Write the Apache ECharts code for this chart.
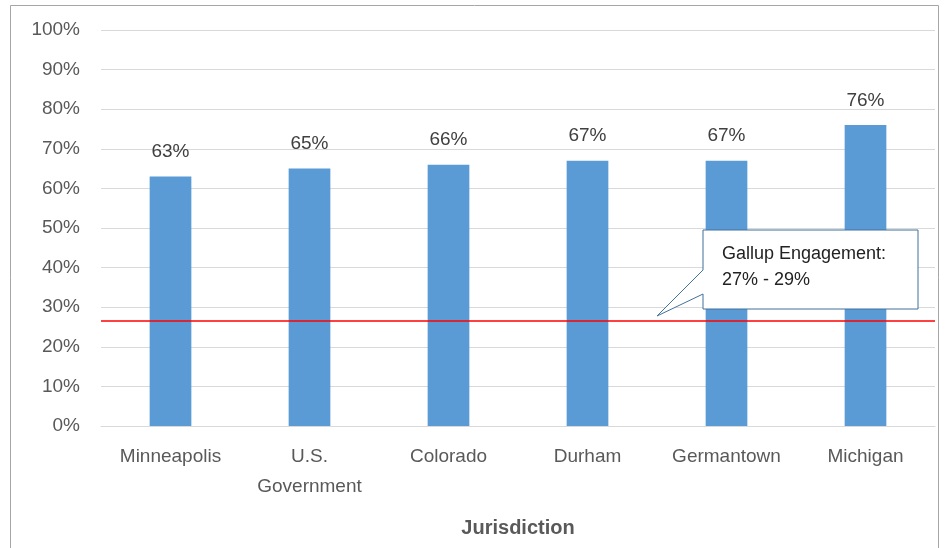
<!DOCTYPE html>
<html>
<head>
<meta charset="utf-8">
<script src="https://cdn.jsdelivr.net/npm/echarts@6/dist/echarts.min.js"></script>
<style>
  html, body { margin: 0; padding: 0; background: #fff; }
  #main { width: 947px; height: 548px; }
</style>
</head>
<body>
<div id="main"></div>
<script>
// data
var categories = ['Minneapolis', 'U.S.\nGovernment', 'Colorado', 'Durham', 'Germantown', 'Michigan'];
var engagement = [63, 65, 66, 67, 67, 76];
var gallupLine = 26.5;
var calloutText = ['Gallup Engagement:', '27% - 29%'];

var font = 'Liberation Sans';
var myChart = echarts.init(document.getElementById('main'));

var option = {
  animation: false,
  backgroundColor: '#fff',
  grid: { left: 101, right: 12, top: 30, bottom: 122 },
  xAxis: {
    type: 'category',
    data: categories,
    name: 'Jurisdiction',
    nameLocation: 'middle',
    nameGap: 92,
    nameTextStyle: { fontFamily: font, fontSize: 20, fontWeight: 'bold', color: '#595959' },
    axisLine: { lineStyle: { color: '#d9d9d9' } },
    axisTick: { show: false },
    axisLabel: {
      interval: 0,
      fontFamily: font, fontSize: 19, color: '#595959', margin: 16, lineHeight: 30
    }
  },
  yAxis: {
    type: 'value',
    min: 0,
    max: 100,
    interval: 10,
    axisLine: { show: false },
    axisTick: { show: false },
    splitLine: { lineStyle: { color: '#d9d9d9' } },
    axisLabel: {
      fontFamily: font, fontSize: 19, color: '#595959', margin: 21,
      formatter: '{value}%'
    }
  },
  series: [{
    type: 'bar',
    data: engagement,
    barWidth: '30%',
    itemStyle: { color: '#5b9bd5' },
    label: {
      show: true,
      position: 'top',
      distance: 15,
      fontFamily: font, fontSize: 19, color: '#404040',
      formatter: '{c}%'
    },
    markLine: {
      symbol: 'none',
      silent: true,
      label: { show: false },
      lineStyle: { color: '#ff0000', width: 1.5, type: 'solid' },
      data: [{ yAxis: gallupLine }]
    }
  }],
  graphic: [
    {
      type: 'rect',
      shape: { x: 10.5, y: 5.5, width: 928, height: 560 },
      style: { fill: 'none', stroke: '#a6a6a6', lineWidth: 1 },
      silent: true
    },
    {
      type: 'polygon',
      shape: {
        points: [[703, 230], [918, 230], [918, 309], [703, 309], [703, 294], [657, 316], [703, 270]]
      },
      style: { fill: '#fff', stroke: '#41719c', lineWidth: 1 },
      z: 10
    },
    {
      type: 'text',
      left: 722,
      top: 241,
      z: 11,
      style: {
        text: calloutText.join('\n'),
        fontFamily: font, fontSize: 18, lineHeight: 26, fill: '#222'
      }
    }
  ]
};
myChart.setOption(option);
</script>
</body>
</html>
